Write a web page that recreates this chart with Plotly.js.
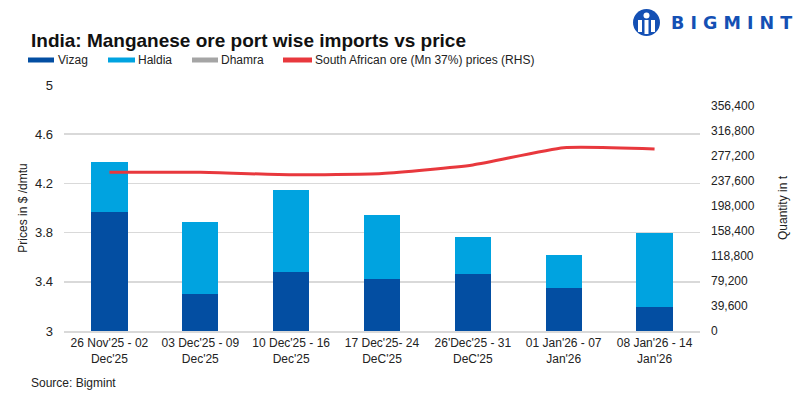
<!DOCTYPE html>
<html><head><meta charset="utf-8">
<script src="https://cdn.plot.ly/plotly-3.0.1.min.js"></script>
<style>html,body{margin:0;padding:0;background:#fff}#chart{width:799px;height:397px}</style>
</head><body><div id="chart"></div>
<script>
var categories = ["26 Nov'25 - 02<br>Dec'25","03 Dec'25 - 09<br>Dec'25","10 Dec'25 - 16<br>Dec'25","17 Dec'25- 24<br>DeC'25","26'Dec'25 - 31<br>DeC'25","01 Jan'26 - 07<br>Jan'26","08 Jan'26 - 14<br>Jan'26"];
var vizag  = [188700, 58700, 93600, 82500, 90400, 68200, 38100];
var haldia = [79300, 114200, 130000, 101500, 58700, 52300, 117300];
var dhamra = [0, 0, 0, 0, 0, 0, 0];
var price  = [4.29, 4.29, 4.27, 4.28, 4.35, 4.49, 4.48];
var qtyTicks = [0, 39600, 79200, 118800, 158400, 198000, 237600, 277200, 316800, 356400];

var FONT = "Liberation Sans, Arial, sans-serif";
var traces = [
  {type:'bar', name:'Vizag', x:categories, y:vizag, marker:{color:'#034EA2'}, yaxis:'y', showlegend:false},
  {type:'bar', name:'Haldia', x:categories, y:haldia, marker:{color:'#00A3E0'}, yaxis:'y', showlegend:false},
  {type:'bar', name:'Dhamra', x:categories, y:dhamra, marker:{color:'#A5A5A5'}, yaxis:'y', showlegend:false},
  {type:'scatter', mode:'lines', name:'South African ore (Mn 37%) prices (RHS)', x:categories, y:price,
   line:{color:'#E8383D', width:3, shape:'spline', smoothing:0.5}, yaxis:'y2', showlegend:false}
];

var legendItems = [
  {x:28, w:26, tx:56, color:'#034EA2', text:'Vizag'},
  {x:108, w:27, tx:136, color:'#00A3E0', text:'Haldia'},
  {x:192, w:26, tx:219, color:'#A5A5A5', text:'Dhamra'},
  {x:283, w:29, tx:313, color:'#E8383D', text:'South African ore (Mn 37%) prices (RHS)'}
];
var W=799, H=397, L=64, R=99, T=85, B=66;
var PW=W-L-R, PH=H-T-B;
function px(x){return (x-L)/PW;} function py(y){return (H-B-y)/PH;}
var shapes=[], annotations=[];
legendItems.forEach(function(it){
  shapes.push({type:'rect', xref:'paper', yref:'paper', x0:px(it.x), x1:px(it.x+it.w), y0:py(62.5), y1:py(57.5), fillcolor:it.color, line:{width:0}});
  annotations.push({xref:'paper', yref:'paper', x:px(it.tx), y:py(60), xanchor:'left', yanchor:'middle', showarrow:false, text:it.text, font:{family:FONT, size:12, color:'#222'}});
});
// logo
shapes.push({type:'circle', xref:'paper', yref:'paper', x0:px(633), x1:px(660), y0:py(36), y1:py(9), fillcolor:'#1450B4', line:{width:0}});
shapes.push({type:'rect', xref:'paper', yref:'paper', x0:px(644.5), x1:px(648.5), y0:py(34), y1:py(20), fillcolor:'#fff', line:{width:0}});
shapes.push({type:'rect', xref:'paper', yref:'paper', x0:px(638), x1:px(642), y0:py(32), y1:py(20), fillcolor:'#fff', line:{width:0}});
shapes.push({type:'rect', xref:'paper', yref:'paper', x0:px(651), x1:px(655), y0:py(32), y1:py(20), fillcolor:'#fff', line:{width:0}});
shapes.push({type:'circle', xref:'paper', yref:'paper', x0:px(643.5), x1:px(649.5), y0:py(18.5), y1:py(12.5), fillcolor:'#fff', line:{width:0}});
annotations.push({xref:'paper', yref:'paper', x:px(669), y:py(23), xanchor:'left', yanchor:'middle', showarrow:false,
  text:'<b>B I G M I N T</b>', font:{family:'DejaVu Sans, sans-serif', size:17.5, color:'#1450B4'}});
annotations.push({xref:'paper', yref:'paper', x:px(29), y:py(40), xanchor:'left', yanchor:'middle', showarrow:false,
  text:'<b>India: Manganese ore port wise imports vs price</b>', font:{family:FONT, size:19, color:'#111'}});
annotations.push({xref:'paper', yref:'paper', x:px(29), y:py(383), xanchor:'left', yanchor:'middle', showarrow:false,
  text:'Source: Bigmint', font:{family:FONT, size:12, color:'#222'}});

var layout = {
  width:W, height:H, margin:{l:L, r:R, t:T, b:B},
  paper_bgcolor:'#fff', plot_bgcolor:'#fff',
  barmode:'stack', bargap:0.6, showlegend:false,
  font:{family:FONT, size:12, color:'#222'},
  xaxis:{type:'category', showline:true, linecolor:'#d9d9d9', linewidth:1.5, ticks:'', tickfont:{size:12, color:'#222'}, showgrid:false},
  yaxis:{side:'right', range:[0, 389600], tickvals:qtyTicks, tickformat:',', showgrid:false, zeroline:false,
         ticks:'', ticklabelstandoff:10, tickfont:{size:12, color:'#222'},
         title:{text:'Quantity in t', font:{size:12, color:'#222'}, standoff:24}},
  yaxis2:{overlaying:'y', side:'left', range:[3,5], dtick:0.4, tick0:3, showgrid:true, gridcolor:'#d9d9d9', gridwidth:1.5, zeroline:false,
         ticks:'', ticklabelstandoff:10, tickfont:{size:13, color:'#222'},
         title:{text:'Prices in $ /dmtu', font:{size:12, color:'#222'}, standoff:4}},
  shapes:shapes, annotations:annotations
};
Plotly.newPlot('chart', traces, layout, {displayModeBar:false, staticPlot:true});
</script></body></html>
